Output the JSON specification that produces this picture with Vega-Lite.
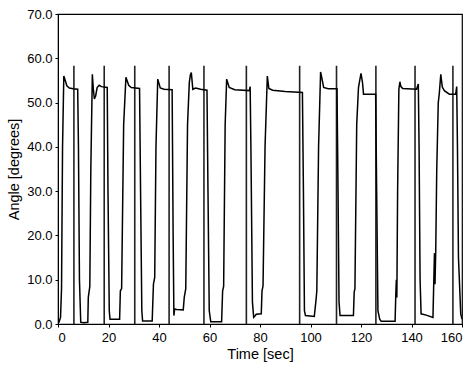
{
  "$schema": "https://vega.github.io/schema/vega-lite/v6.json",
  "autosize": "none",
  "padding": {"left": 58, "top": 14, "right": 13, "bottom": 42},
  "width": 404,
  "height": 310,
  "background": "white",
  "config": {
    "view": {"stroke": "black", "strokeWidth": 1.2},
    "font": "Liberation Sans",
    "axis": {
      "grid": false,
      "domainColor": "black",
      "tickColor": "black",
      "tickSize": 3,
      "labelFont": "Liberation Sans",
      "labelFontSize": 13,
      "labelColor": "black",
      "titleFont": "Liberation Sans",
      "titleFontSize": 14.5,
      "titleFontWeight": "normal",
      "titleColor": "black"
    }
  },
  "datasets": {
    "signal": [
      {"t": 0.0, "a": 0.3}, {"t": 0.4, "a": 0.4}, {"t": 1.0, "a": 1.5}, {"t": 1.4, "a": 8}, {"t": 1.8, "a": 40},
      {"t": 2.3, "a": 56.0}, {"t": 2.7, "a": 55.3}, {"t": 3.5, "a": 53.8}, {"t": 4.5, "a": 53.3}, {"t": 6.0, "a": 53.1},
      {"t": 7.8, "a": 53.0}, {"t": 8.1, "a": 40}, {"t": 8.5, "a": 10}, {"t": 9.0, "a": 0.4}, {"t": 10.0, "a": 0.3},
      {"t": 11.8, "a": 0.4}, {"t": 12.0, "a": 6.0}, {"t": 12.6, "a": 8.5}, {"t": 13.0, "a": 35}, {"t": 13.6, "a": 56.4},
      {"t": 14.0, "a": 53.0}, {"t": 14.4, "a": 50.8}, {"t": 14.9, "a": 51.5}, {"t": 15.5, "a": 53.4}, {"t": 16.3, "a": 53.9},
      {"t": 17.2, "a": 53.6}, {"t": 19.5, "a": 53.4}, {"t": 19.8, "a": 30}, {"t": 20.3, "a": 3}, {"t": 20.6, "a": 1.1},
      {"t": 24.4, "a": 1.1}, {"t": 24.7, "a": 7.5}, {"t": 25.2, "a": 8}, {"t": 26.0, "a": 45}, {"t": 26.9, "a": 55.7},
      {"t": 28.0, "a": 53.9}, {"t": 29.0, "a": 53.4}, {"t": 32.3, "a": 53.2}, {"t": 32.7, "a": 30}, {"t": 33.2, "a": 3},
      {"t": 33.5, "a": 0.7}, {"t": 37.3, "a": 0.7}, {"t": 37.8, "a": 9.0}, {"t": 38.3, "a": 10.5}, {"t": 38.8, "a": 40},
      {"t": 39.5, "a": 55.3}, {"t": 40.5, "a": 53.3}, {"t": 42.0, "a": 53.0}, {"t": 45.2, "a": 52.9}, {"t": 45.6, "a": 20},
      {"t": 45.9, "a": 1.9}, {"t": 46.2, "a": 3.4}, {"t": 47.0, "a": 3.3}, {"t": 49.6, "a": 3.2}, {"t": 50.0, "a": 6.0},
      {"t": 50.6, "a": 8}, {"t": 51.3, "a": 45}, {"t": 52.0, "a": 54.5}, {"t": 52.4, "a": 56.2}, {"t": 52.8, "a": 56.8},
      {"t": 53.4, "a": 53.0}, {"t": 54.5, "a": 53.3}, {"t": 56.5, "a": 53.0}, {"t": 59.0, "a": 52.8}, {"t": 59.4, "a": 30},
      {"t": 59.9, "a": 3}, {"t": 60.5, "a": 0.5}, {"t": 64.8, "a": 0.5}, {"t": 65.2, "a": 7.5}, {"t": 65.6, "a": 8.5},
      {"t": 66.2, "a": 45}, {"t": 66.8, "a": 55.3}, {"t": 67.8, "a": 53.4}, {"t": 70.0, "a": 52.9}, {"t": 75.8, "a": 52.7},
      {"t": 76.1, "a": 53.6}, {"t": 76.4, "a": 40}, {"t": 77.0, "a": 5}, {"t": 77.5, "a": 1.5}, {"t": 78.0, "a": 1.8},
      {"t": 78.5, "a": 2.2}, {"t": 80.5, "a": 2.3}, {"t": 80.8, "a": 7.5}, {"t": 81.2, "a": 8.6}, {"t": 82.0, "a": 40},
      {"t": 82.9, "a": 56.0}, {"t": 83.5, "a": 53.2}, {"t": 85.0, "a": 52.8}, {"t": 90.0, "a": 52.5}, {"t": 96.8, "a": 52.3},
      {"t": 97.2, "a": 30}, {"t": 97.6, "a": 3}, {"t": 98.0, "a": 1.9}, {"t": 101.5, "a": 1.7}, {"t": 102.2, "a": 5.5},
      {"t": 102.5, "a": 7.5}, {"t": 103.2, "a": 40}, {"t": 104.0, "a": 56.9}, {"t": 104.5, "a": 55.5}, {"t": 105.2, "a": 53.4},
      {"t": 107.0, "a": 53.1}, {"t": 110.5, "a": 53.1}, {"t": 110.9, "a": 30}, {"t": 111.3, "a": 5}, {"t": 111.7, "a": 1.9},
      {"t": 117.0, "a": 1.9}, {"t": 117.3, "a": 7.2}, {"t": 117.6, "a": 8}, {"t": 118.3, "a": 45}, {"t": 119.0, "a": 53.4},
      {"t": 119.5, "a": 55.0}, {"t": 120.0, "a": 56.6}, {"t": 120.6, "a": 54.5}, {"t": 121.0, "a": 51.9}, {"t": 125.8, "a": 51.9},
      {"t": 126.2, "a": 30}, {"t": 126.7, "a": 3}, {"t": 127.4, "a": 1.1}, {"t": 128.0, "a": 0.6}, {"t": 133.5, "a": 0.6},
      {"t": 133.8, "a": 7}, {"t": 134.0, "a": 10}, {"t": 134.2, "a": 6}, {"t": 134.5, "a": 30}, {"t": 135.0, "a": 53},
      {"t": 135.4, "a": 54.7}, {"t": 135.8, "a": 53.6}, {"t": 136.5, "a": 53.2}, {"t": 142.0, "a": 53.0}, {"t": 142.7, "a": 54.2},
      {"t": 143.0, "a": 40}, {"t": 143.4, "a": 10}, {"t": 143.8, "a": 2.3}, {"t": 145.8, "a": 2.0}, {"t": 148.5, "a": 1.5},
      {"t": 148.8, "a": 9}, {"t": 149.1, "a": 16}, {"t": 149.3, "a": 9}, {"t": 149.6, "a": 16.5}, {"t": 150.0, "a": 35},
      {"t": 150.6, "a": 50}, {"t": 151.0, "a": 52}, {"t": 151.6, "a": 56.4}, {"t": 152.2, "a": 53.5}, {"t": 153.0, "a": 52.7},
      {"t": 155.0, "a": 51.9}, {"t": 157.5, "a": 51.9}, {"t": 157.9, "a": 53.6}, {"t": 158.2, "a": 40}, {"t": 158.6, "a": 15},
      {"t": 159.5, "a": 2.3}, {"t": 160.0, "a": 1.1}
    ],
    "markers": [
      {"t": 6.3, "lo": 0, "hi": 58.3}, {"t": 18.3, "lo": 0, "hi": 58.3}, {"t": 30.4, "lo": 0, "hi": 58.3},
      {"t": 44.0, "lo": 0, "hi": 58.3}, {"t": 57.8, "lo": 0, "hi": 58.3}, {"t": 74.6, "lo": 0, "hi": 58.3},
      {"t": 95.7, "lo": 0, "hi": 58.3}, {"t": 110.3, "lo": 0, "hi": 58.3}, {"t": 125.9, "lo": 0, "hi": 58.3},
      {"t": 141.4, "lo": 0, "hi": 58.3}, {"t": 156.4, "lo": 0, "hi": 58.3}
    ]
  },
  "layer": [
    {
      "data": {"name": "markers"},
      "mark": {"type": "rule", "color": "#222222", "strokeWidth": 1.6},
      "encoding": {
        "x": {"field": "t", "type": "quantitative", "scale": {"domain": [0, 160], "nice": false}},
        "y": {"field": "lo", "type": "quantitative", "scale": {"domain": [0, 70], "nice": false}},
        "y2": {"field": "hi"}
      }
    },
    {
      "data": {"name": "signal"},
      "mark": {"type": "line", "color": "black", "strokeWidth": 1.5, "clip": true},
      "encoding": {
        "x": {"field": "t", "type": "quantitative", "title": "Time [sec]",
              "axis": {"values": [0, 20, 40, 60, 80, 100, 120, 140, 160], "format": "d", "labelPadding": 4, "titlePadding": 3}},
        "y": {"field": "a", "type": "quantitative", "title": "Angle [degrees]",
              "axis": {"values": [0, 10, 20, 30, 40, 50, 60, 70], "format": ".1f", "labelPadding": 3, "titlePadding": 5}},
        "order": {"field": "t"}
      }
    }
  ]
}
